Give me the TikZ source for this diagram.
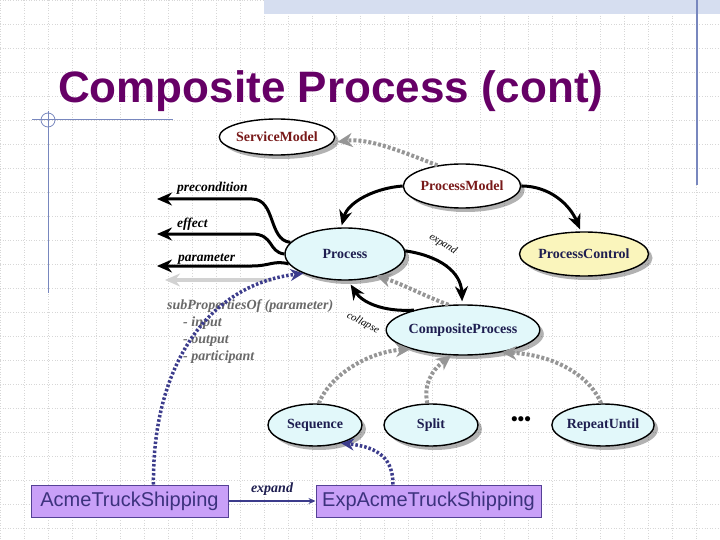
\documentclass[tikz,border=0pt]{standalone}
\usepackage{fontspec}
\setmainfont{Liberation Serif}
\newfontfamily\arialfont{Liberation Sans}
\usetikzlibrary{shapes.geometric,arrows.meta,shadows}
\definecolor{titlepurple}{RGB}{102,0,102}
\definecolor{redtxt}{RGB}{120,25,25}
\definecolor{navytxt}{RGB}{30,30,80}
\definecolor{cyanfill}{RGB}{226,248,250}
\definecolor{yellowfill}{RGB}{250,245,188}
\definecolor{gridgray}{RGB}{215,215,215}
\definecolor{bandblue}{RGB}{214,222,240}
\definecolor{decoblue}{RGB}{120,135,190}
\definecolor{dotgray}{RGB}{150,150,150}
\definecolor{navydot}{RGB}{60,60,140}
\definecolor{boxfill}{RGB}{201,160,248}
\definecolor{boxdraw}{RGB}{85,65,150}
\definecolor{boxtext}{RGB}{60,50,125}
\definecolor{subgray}{RGB}{105,105,105}
\tikzset{
  ell/.style={ellipse, draw=black, line width=1.4pt, inner sep=0pt,
    font=\bfseries\fontsize{14}{14}\selectfont,
    drop shadow={shadow xshift=4pt, shadow yshift=-4pt, opacity=0.3, fill=black}},
  blackarr/.style={line width=3pt, draw=black, -{Stealth[length=15pt,width=13pt]}},
  greyarr/.style={line width=4pt, draw=dotgray, dash pattern=on 3pt off 2pt,
    -{Stealth[length=15pt,width=14pt,fill=dotgray]}},
  navyarr/.style={line width=3.5pt, draw=navydot, dash pattern=on 2.5pt off 2pt,
    -{Stealth[length=13pt,width=12pt,fill=navydot]}},
  leftlbl/.style={font=\bfseries\itshape\fontsize{13.5}{13.5}\selectfont, anchor=base west, inner sep=0pt},
  sublbl/.style={font=\bfseries\itshape\fontsize{14}{14}\selectfont, text=subgray, anchor=base west, inner sep=0pt},
  smalllbl/.style={font=\itshape\fontsize{10.5}{10.5}\selectfont, inner sep=0pt},
  acmebox/.style={draw=boxdraw, line width=1pt, fill=boxfill, text=boxtext,
    font=\arialfont\fontsize{20}{20}\selectfont, minimum height=32pt, inner sep=0pt}
}
\begin{document}
\begin{tikzpicture}[x=1pt,y=-1pt]
\useasboundingbox (0,0) rectangle (720,540);
\fill[white] (0,0) rectangle (720,540);
% grid
\foreach \g in {0,24,...,720} \draw[gridgray, dotted, line width=0.6pt] (\g,0) -- (\g,540);
\foreach \g in {0,24,...,540} \draw[gridgray, dotted, line width=0.6pt] (0,\g) -- (720,\g);
% decorations
\fill[bandblue] (264,0) rectangle (720,14);
\draw[decoblue, line width=1.5pt] (697,0) -- (697,185);
\draw[decoblue, line width=1pt] (32,120) -- (173,120);
\draw[decoblue, line width=1pt] (48,111) -- (48,293);
\draw[decoblue, line width=0.8pt] (48,120) circle[radius=7pt];
% title
\node[anchor=base west, inner sep=0pt, text=titlepurple,
  font=\arialfont\bfseries\fontsize{44}{44}\selectfont] (title) at (58,103) {Composite Process (cont)};
% ellipse nodes
\node[ell, fill=white, text=redtxt, minimum width=96pt, minimum height=36pt] (sm) at (277,137) {ServiceModel};
\node[ell, fill=white, text=redtxt, minimum width=116pt, minimum height=44pt] (pm) at (462,186) {ProcessModel};
\node[ell, fill=cyanfill, text=navytxt, minimum width=120pt, minimum height=52pt] (p) at (345,254) {Process};
\node[ell, fill=yellowfill, text=navytxt, minimum width=116pt, minimum height=44pt] (pc) at (584,254) {ProcessControl};
\node[ell, fill=cyanfill, text=navytxt, minimum width=124pt, minimum height=50pt] (cp) at (463,330) {CompositeProcess};
\node[ell, fill=cyanfill, text=navytxt, minimum width=94pt, minimum height=42pt] (seq) at (315,425) {Sequence};
\node[ell, fill=cyanfill, text=navytxt, minimum width=94pt, minimum height=42pt] (split) at (431,425) {Split};
\node[ell, fill=cyanfill, text=navytxt, minimum width=94pt, minimum height=42pt] (ru) at (603,425) {RepeatUntil};
\node[font=\bfseries\fontsize{19}{19}\selectfont] (dots) at (521,421) {•••};
% left property arrows
\coordinate (cpre) at (157,199);
\coordinate (ceff) at (157,234);
\coordinate (cpar) at (157,266);
\coordinate (csubA) at (272,280);
\coordinate (csubB) at (165,280);
\draw[line width=4pt, draw=gray!35, -{Stealth[length=15pt,width=13pt,fill=gray!35]}] (csubA) -- (csubB);
\draw[blackarr] (p.168) .. controls (268,240) and (276,199) .. (252,199) -- (cpre);
\draw[blackarr] (p.180) .. controls (268,252) and (274,234) .. (252,234) -- (ceff);
\draw[blackarr] (p.190) .. controls (274,260) and (270,266) .. (252,266) -- (cpar);
\node[leftlbl] (lpre) at (177,192) {precondition};
\node[leftlbl] (leff) at (177,227) {effect};
\node[leftlbl] (lpar) at (178,261) {parameter};
% sub properties text
\node[sublbl] (s0) at (167,309) {subPropertiesOf (parameter)};
\node[sublbl] (s1) at (183,326) {- input};
\node[sublbl] (s2) at (183,343) {- output};
\node[sublbl] (s3) at (183,360) {- participant};
% grey dotted arrows
\draw[greyarr] (pm.140) .. controls (398,150) and (368,138) .. ([xshift=4pt]sm.-5);
\draw[greyarr] (cp.120) .. controls (422,295) and (405,285) .. ([xshift=3pt,yshift=2pt]p.-40);
\draw[greyarr] (seq.80) .. controls (330,375) and (368,352) .. (cp.200);
\draw[greyarr] (split.100) .. controls (424,385) and (430,372) .. (cp.-115);
\draw[greyarr] (ru.95) .. controls (592,380) and (560,355) .. (cp.-30);
% black arrows
\draw[blackarr] (pm.west) .. controls (375,188) and (348,202) .. ([yshift=2pt]p.97);
\draw[blackarr] (pm.east) .. controls (550,186) and (570,205) .. ([yshift=2pt]pc.100);
\draw[blackarr] (p.3) .. controls (440,256) and (461,272) .. ([yshift=3pt]cp.92);
\draw[blackarr] (cp.158) .. controls (382,312) and (362,302) .. ([yshift=-4pt]p.-78);
\node[smalllbl, rotate=-32] (lexp) at (443,244) {expand};
\node[smalllbl, rotate=-28] (lcol) at (363,323) {collapse};
% bottom boxes
\node[acmebox, minimum width=197pt] (acme) at (129.5,501) {AcmeTruckShipping};
\node[acmebox, minimum width=225pt] (exp) at (428.5,501) {ExpAcmeTruckShipping};
\draw[navydot, line width=1.5pt, -{Stealth[length=7pt,width=6pt]}] (acme.east) -- (exp.west)
  node[midway, above=1pt, font=\bfseries\itshape\fontsize{14}{14}\selectfont, text=navytxt] (lexp2) {expand};
\draw[navyarr] ([xshift=24pt]acme.north) .. controls (152,370) and (205,285) .. (p.205);
\draw[navyarr] ([xshift=-35.5pt]exp.north) .. controls (393,460) and (380,447) .. (seq.-35);
\end{tikzpicture}
\end{document}
